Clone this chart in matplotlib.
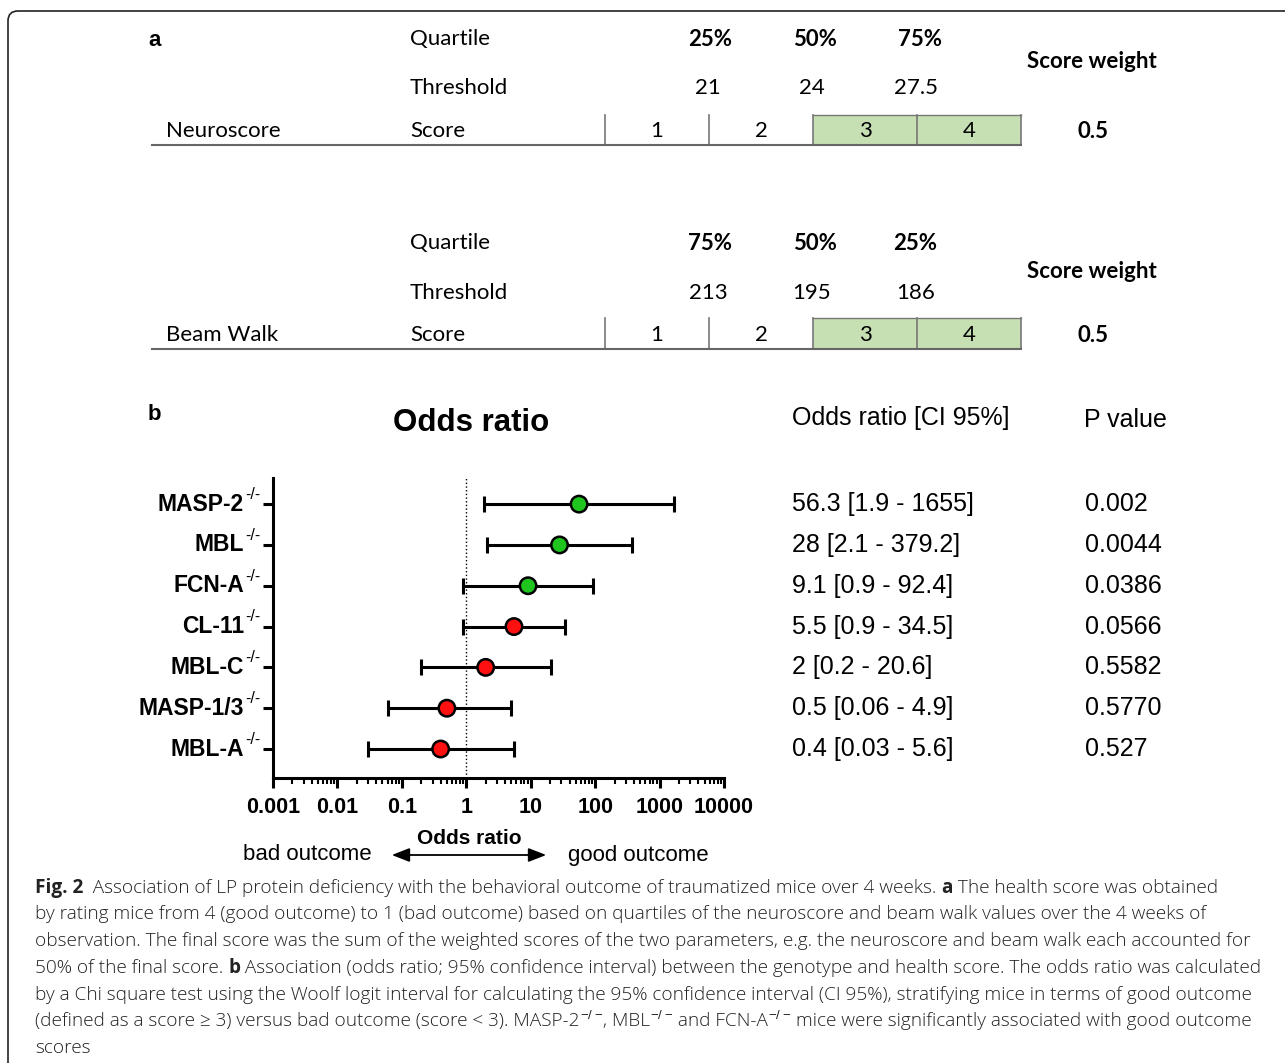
import matplotlib
matplotlib.use("Agg")
import matplotlib.pyplot as plt
import matplotlib.transforms as mtransforms
from matplotlib.patches import Rectangle, FancyBboxPatch, FancyArrowPatch
from matplotlib.ticker import LogLocator, NullFormatter, FixedFormatter, FixedLocator

W, H = 1285, 1063

# panel a data
score_values = [1, 2, 3, 4]
good_score_cutoff = 3
neuro_quartiles = ["25%", "50%", "75%"]
neuro_thresholds = ["21", "24", "27.5"]
beam_quartiles = ["75%", "50%", "25%"]
beam_thresholds = ["213", "195", "186"]
score_weights = [0.5, 0.5]
parameters = ["Neuroscore", "Beam Walk"]

# panel b data
genotypes = ["MASP-2", "MBL", "FCN-A", "CL-11", "MBL-C", "MASP-1/3", "MBL-A"]
odds_ratio = [56.3, 28, 9.1, 5.5, 2, 0.5, 0.4]
ci_low = [1.9, 2.1, 0.9, 0.9, 0.2, 0.06, 0.03]
ci_high = [1655, 379.2, 92.4, 34.5, 20.6, 4.9, 5.6]
p_values = ["0.002", "0.0044", "0.0386", "0.0566", "0.5582", "0.5770", "0.527"]
x_ticks = [0.001, 0.01, 0.1, 1, 10, 100, 1000, 10000]
x_ticklabels = ["0.001", "0.01", "0.1", "1", "10", "100", "1000", "10000"]

caption = [
    [("Fig. 2", "bold"), ("  Association of LP protein deficiency with the behavioral outcome of traumatized mice over 4 weeks. ", "light"),
     ("a", "bold"), (" The health score was obtained", "light")],
    [("by rating mice from 4 (good outcome) to 1 (bad outcome) based on quartiles of the neuroscore and beam walk values over the 4 weeks of", "light")],
    [("observation. The final score was the sum of the weighted scores of the two parameters, e.g. the neuroscore and beam walk each accounted for", "light")],
    [("50% of the final score. ", "light"), ("b", "bold"),
     (" Association (odds ratio; 95% confidence interval) between the genotype and health score. The odds ratio was calculated", "light")],
    [("by a Chi square test using the Woolf logit interval for calculating the 95% confidence interval (CI 95%), stratifying mice in terms of good outcome", "light")],
    [("(defined as a score \u2265 3) versus bad outcome (score < 3). MASP-2", "light"), ("$^{-/-}$", "light"), (", MBL", "light"),
     ("$^{-/-}$", "light"), (" and FCN-A", "light"), ("$^{-/-}$", "light"),
     (" mice were significantly associated with good outcome", "light")],
    [("scores", "light")],
]

ARIAL = "Liberation Sans"
CALIBRI = "Lato"
CAPTION = "Open Sans"

plt.rcParams["mathtext.fontset"] = "custom"
plt.rcParams["mathtext.rm"] = ARIAL
plt.rcParams["mathtext.bf"] = ARIAL + ":bold"

fig = plt.figure(figsize=(W / 100, H / 100), dpi=100)
ov = fig.add_axes([0, 0, 1, 1])
ov.set_xlim(0, W)
ov.set_ylim(H, 0)
ov.axis("off")

# outer frame
ov.add_patch(FancyBboxPatch((8, 11), 1400, 1200, boxstyle="round,pad=0,rounding_size=10",
                            fc="none", ec="#222222", lw=1.2, clip_on=False))

# ---- panel a ----
ov.text(148, 41, "a", fontsize=16, fontweight="bold", family=ARIAL, va="center")
cell_edges = [605, 709, 813, 917, 1021]
blocks = [
    dict(q=neuro_quartiles, t=neuro_thresholds, yq=39, yt=88, yw=61, yr=131, top=115, bot=145,
         qx=[710, 815, 920]),
    dict(q=beam_quartiles, t=beam_thresholds, yq=243, yt=293, yw=272, yr=335, top=318, bot=349,
         qx=[710, 815, 915]),
]
for b, name, w in zip(blocks, parameters, score_weights):
    ov.text(410, b["yq"], "Quartile", fontsize=16, family=CALIBRI, va="center")
    ov.text(410, b["yt"], "Threshold", fontsize=16, family=CALIBRI, va="center")
    ov.text(410, b["yr"], "Score", fontsize=16, family=CALIBRI, va="center")
    ov.text(166, b["yr"], name, fontsize=16, family=CALIBRI, va="center")
    for x, q in zip(b["qx"], b["q"]):
        ov.text(x, b["yq"], q, fontsize=16, family=CALIBRI, fontweight="bold", ha="center", va="center")
    for x, t in zip([708, 812, 916], b["t"]):
        ov.text(x, b["yt"], t, fontsize=16, family=CALIBRI, ha="center", va="center")
    ov.text(1092, b["yw"], "Score weight", fontsize=16, family=CALIBRI, fontweight="bold", ha="center", va="center")
    ov.text(1093, b["yr"], f"{w:g}", fontsize=16, family=CALIBRI, fontweight="bold", ha="center", va="center")
    for i, s in enumerate(score_values):
        x0, x1 = cell_edges[i], cell_edges[i + 1]
        fc = "#c6e0b4" if s >= good_score_cutoff else "none"
        ov.add_patch(Rectangle((x0, b["top"]), x1 - x0, b["bot"] - b["top"], fc=fc, ec="none"))
        ov.text((x0 + x1) / 2, b["yr"], str(s), fontsize=16, family=CALIBRI, ha="center", va="center")
    for x in cell_edges:
        ov.plot([x, x], [b["top"], b["bot"]], color="#777777", lw=1.2)
    ov.plot([813, 1021], [b["top"], b["top"]], color="#777777", lw=1.0)
    ov.plot([152, 1021], [b["bot"], b["bot"]], color="#666666", lw=1.5)

# ---- panel b ----
ov.text(148, 415, "b", fontsize=16, fontweight="bold", family=ARIAL, va="center")
ov.text(471, 423, "Odds ratio", fontsize=22.5, fontweight="bold", family=ARIAL, ha="center", va="center")

ax = fig.add_axes([273 / W, 1 - 778 / H, (724 - 273) / W, (778 - 478) / H])
ax.set_facecolor("none")
n = len(genotypes)
ypos = list(range(n, 0, -1))
xerr = [[o - l for o, l in zip(odds_ratio, ci_low)], [h - o for o, h in zip(odds_ratio, ci_high)]]
ax.axvline(1, color="black", ls=":", lw=1.0, zorder=1)
ax.errorbar(odds_ratio, ypos, xerr=xerr, fmt="none", ecolor="black", elinewidth=2.2,
            capsize=6, capthick=2.2, zorder=2)
colors = ["#1fc41f" if float(p) < 0.05 else "#ff1010" for p in p_values]
ax.scatter(odds_ratio, ypos, s=140, c=colors, edgecolors="black", linewidths=1.8, zorder=3)
ax.set_xscale("log")
ax.set_xlim(1e-3, 1e4)
ax.set_ylim(0.29, n + 0.64)
ax.xaxis.set_major_locator(FixedLocator(x_ticks))
ax.xaxis.set_major_formatter(FixedFormatter(x_ticklabels))
ax.xaxis.set_minor_locator(LogLocator(base=10, subs=range(2, 10), numticks=20))
ax.xaxis.set_minor_formatter(NullFormatter())
ax.set_yticks(ypos)
ax.set_yticklabels([])
for sp in ["top", "right"]:
    ax.spines[sp].set_visible(False)
for sp in ["left", "bottom"]:
    ax.spines[sp].set_linewidth(2.2)
ax.tick_params(axis="both", which="major", direction="out", length=7, width=2.2)
ax.tick_params(axis="x", which="minor", direction="out", length=4, width=1.5)
ax.tick_params(axis="x", pad=7)
for lab in ax.get_xticklabels():
    lab.set_fontfamily(ARIAL)
    lab.set_fontweight("bold")
    lab.set_fontsize(15.5)

# genotype labels with "-/-" superscript
tr = mtransforms.blended_transform_factory(fig.transFigure, ax.transData)
sup_tr = tr + mtransforms.ScaledTranslation(0, 7 / 72, fig.dpi_scale_trans)
for y, g in zip(ypos, genotypes):
    ax.text(244 / W, y, g, transform=tr, fontsize=16.5, fontweight="bold", family=ARIAL,
            ha="right", va="center", clip_on=False)
    ax.text(245 / W, y, "-/-", transform=sup_tr, fontsize=11.5, family=ARIAL,
            ha="left", va="center", clip_on=False)

# table next to forest plot
ov.text(792, 418, "Odds ratio [CI 95%]", fontsize=18, family=ARIAL, va="center")
ov.text(1084, 420, "P value", fontsize=18, family=ARIAL, va="center")
for y, o, l, h, p in zip(ypos, odds_ratio, ci_low, ci_high, p_values):
    ax.text(792 / W, y, f"{o:g} [{l:g} - {h:g}]", transform=tr, fontsize=18, family=ARIAL, va="center")
    ax.text(1085 / W, y, p, transform=tr, fontsize=18, family=ARIAL, va="center")

# outcome direction
ov.text(469, 838, "Odds ratio", fontsize=15, fontweight="bold", family=ARIAL, ha="center", va="center")
ov.text(243, 855, "bad outcome", fontsize=16, family=ARIAL, va="center")
ov.text(568, 855, "good outcome", fontsize=16, family=ARIAL, va="center")
ov.add_patch(FancyArrowPatch((389, 855), (549, 855), arrowstyle="<|-|>,head_length=0.9,head_width=0.35",
                             color="black", lw=1.3, mutation_scale=12))

# ---- caption ----
renderer = fig.canvas.get_renderer()


def draw_line(x, y, segs, size):
    for txt, weight in segs:
        t = ov.text(x, y, txt, fontsize=size, family=CAPTION, fontweight=weight, va="baseline", color="#222222")
        bb = t.get_window_extent(renderer=renderer)
        x += bb.width
    return x


probe = ov.text(0, 0, "".join(s for s, _ in caption[4]), fontsize=12, family=CAPTION, fontweight="light")
width = probe.get_window_extent(renderer=renderer).width
probe.remove()
cap_size = 12 * (1251 - 35) / width

line_y = [893, 919, 946, 973, 1000, 1026, 1053]
for y, segs in zip(line_y, caption):
    draw_line(35, y, segs, cap_size)

fig.savefig("out.png", dpi=100)
